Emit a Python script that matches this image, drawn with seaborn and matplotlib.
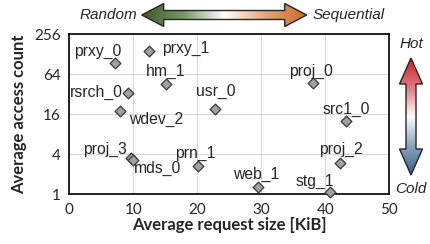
import numpy as np
import pandas as pd
import matplotlib
matplotlib.use('Agg')
import matplotlib.pyplot as plt
from matplotlib.colors import LinearSegmentedColormap
from matplotlib.patches import Polygon
import seaborn as sns

# workload traces: average request size [KiB] vs average access count
traces = ['prxy_0', 'prxy_1', 'hm_1', 'rsrch_0', 'wdev_2', 'proj_3', 'mds_0',
          'prn_1', 'usr_0', 'proj_0', 'src1_0', 'proj_2', 'stg_1', 'web_1']
req_size = [7.2, 12.5, 15.1, 9.2, 7.9, 9.65, 10.0,
            20.1, 22.8, 38.0, 43.2, 42.3, 40.7, 29.5]
access_count = [94, 142, 45, 34, 18, 3.56, 3.3,
                2.7, 19.4, 47, 12.8, 2.93, 1.09, 1.29]

y_ticks = [1, 4, 16, 64, 256]
x_ticks = [0, 10, 20, 30, 40, 50]

# label offsets in pixels (dx, dy up, ha)
label_pos = {
    'prxy_0': (-18, 12, 'center'), 'prxy_1': (13, 3, 'left'),
    'hm_1': (0, 13, 'center'), 'rsrch_0': (-5, 0, 'right'),
    'wdev_2': (9, -9, 'left'), 'proj_3': (-4, 8, 'right'),
    'mds_0': (1, -9, 'left'), 'prn_1': (-3, 12, 'center'),
    'usr_0': (1, 17, 'center'), 'proj_0': (-2, 12, 'center'),
    'src1_0': (1, 11, 'center'), 'proj_2': (1, 14, 'center'),
    'stg_1': (-15, 10, 'center'), 'web_1': (-2, 13, 'center'),
}

df = pd.DataFrame({'trace': traces, 'size': req_size, 'count': access_count})

sns.set_style('white')
plt.rcParams['font.family'] = ['Lato', 'DejaVu Sans']

W, H = 430, 244
fig = plt.figure(figsize=(W / 100, H / 100), dpi=100)
ax = fig.add_axes([69.3 / W, (H - 194.3) / H, 320 / W, 160 / H])

ax.grid(True, color='#d9d9d9', linewidth=0.8, zorder=0)
ax.set_axisbelow(True)
sns.scatterplot(data=df, x='size', y='count', marker='D', s=30, color='#a0a0a0',
                edgecolor='#3a3a3a', linewidth=0.9, ax=ax, zorder=3, clip_on=False)

for t, xv, yv in zip(traces, req_size, access_count):
    dx, dy, ha = label_pos[t]
    ax.annotate(t, (xv, yv), xytext=(dx, dy), textcoords='offset pixels',
                ha=ha, va='center', fontsize=11.3, color='#262626',
                family=['Liberation Sans', 'DejaVu Sans'], zorder=4)

ax.set_yscale('log', base=2)
ax.set_xlim(0, 50)
ax.set_ylim(1, 256)
ax.set_yticks(y_ticks)
ax.set_yticklabels([str(v) for v in y_ticks])
ax.set_yticks([2, 8, 32, 128], minor=True)
ax.set_xticks(x_ticks)
ax.tick_params(axis='both', which='both', direction='in', length=4, width=1,
               color='#262626', labelsize=11, labelcolor='#262626', pad=6)
ax.tick_params(axis='y', which='minor', labelleft=False)
for s in ax.spines.values():
    s.set_linewidth(1.3)
    s.set_color('#111111')

ax.set_xlabel('Average request size [KiB]', fontsize=12, fontweight='bold', labelpad=0)
ax.set_ylabel('Average access count', fontsize=12, fontweight='bold', labelpad=5)

# overlay in pixel coordinates for the gradient arrows
ov = fig.add_axes([0, 0, 1, 1], zorder=5)
ov.axis('off')


def double_arrow(x0, y0, x1, y1, shaft, head, hlen, colors):
    horiz = y0 == y1
    if horiz:
        yc = y0
        pts = [(x0, yc), (x0 + hlen, yc - head), (x0 + hlen, yc - shaft),
               (x1 - hlen, yc - shaft), (x1 - hlen, yc - head), (x1, yc),
               (x1 - hlen, yc + head), (x1 - hlen, yc + shaft),
               (x0 + hlen, yc + shaft), (x0 + hlen, yc + head)]
        grad = np.linspace(0, 1, 256).reshape(1, -1)
        ext = (x0, x1, yc + head, yc - head)
    else:
        xc = x0
        pts = [(xc, y0), (xc + head, y0 + hlen), (xc + shaft, y0 + hlen),
               (xc + shaft, y1 - hlen), (xc + head, y1 - hlen), (xc, y1),
               (xc - head, y1 - hlen), (xc - shaft, y1 - hlen),
               (xc - shaft, y0 + hlen), (xc - head, y0 + hlen)]
        grad = np.linspace(0, 1, 256).reshape(-1, 1)
        ext = (xc - head, xc + head, y1, y0)
    cmap = LinearSegmentedColormap.from_list('g', colors)
    poly = Polygon(pts, closed=True, facecolor='none', edgecolor='#262626',
                   linewidth=1.0, zorder=3)
    ov.add_patch(poly)
    im = ov.imshow(grad, cmap=cmap, extent=ext, aspect='auto', zorder=2,
                   origin='upper')
    im.set_clip_path(poly)


double_arrow(141.7, 15, 306.7, 15, 4.5, 11.5, 22,
             ['#3c5a28', '#7a9566', '#ffffff', '#e4a678', '#c86a28'])
double_arrow(411, 58, 411, 175, 5, 11.5, 26,
             ['#c8202c', '#e07a80', '#ffffff', '#8aa3bf', '#3a5f88'])
ov.set_xlim(0, W)
ov.set_ylim(H, 0)

tfont = ['Liberation Sans', 'DejaVu Sans']
ov.text(137, 15, 'Random', ha='right', va='center', fontsize=11, style='italic',
        color='#262626', family=tfont)
ov.text(313, 15, 'Sequential', ha='left', va='center', fontsize=11, style='italic',
        color='#262626', family=tfont)
ov.text(411, 44, 'Hot', ha='center', va='center', fontsize=11, style='italic',
        color='#262626', family=tfont)
ov.text(411, 189, 'Cold', ha='center', va='center', fontsize=11, style='italic',
        color='#262626', family=tfont)

fig.savefig('out.png', dpi=100)
